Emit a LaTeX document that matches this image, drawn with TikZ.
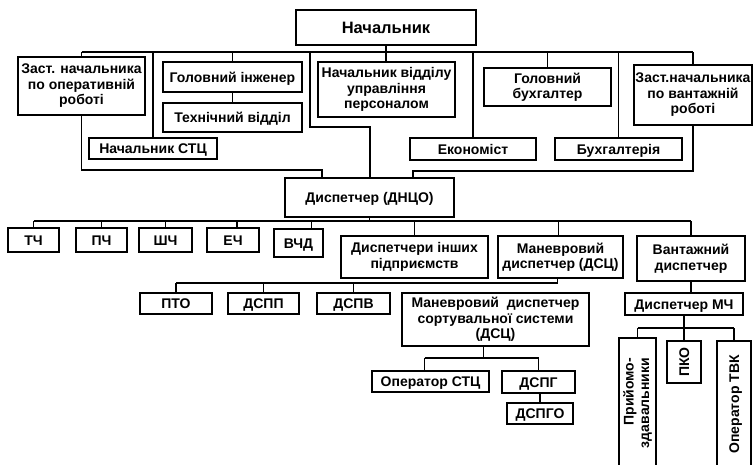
\documentclass[tikz,border=0pt]{standalone}
\usepackage{fontspec}
\setmainfont{Liberation Sans}
\newcommand\bxfont{\fontsize{14}{15.5}\selectfont\bfseries}
\newcommand\bigbxfont{\fontsize{16.5}{18}\selectfont\bfseries}
\tikzset{
  box/.style={draw, line width=2.7pt, inner sep=0pt, align=center, font=\bxfont},
  sl/.style={text height=10pt, text depth=0pt},
  conn/.style={draw, line width=1.3pt}
}
% \bx{name}{x1}{y1}{x2}{y2}{options}{text}
\newcommand\bx[7]{\node[box, minimum width={(#4-#2)*1pt}, minimum height={(#5-#3)*1pt}, #6] (#1) at ({(#2+#4)/2},{(#3+#5)/2}) {#7};}
\newcommand\rbx[7]{\node[box, rotate=90, minimum width={(#5-#3)*1pt}, minimum height={(#4-#2)*1pt}, #6] (#1) at ({(#2+#4)/2},{(#3+#5)/2}) {#7};}
\begin{document}
\begin{tikzpicture}[x=1pt,y=-1pt]
\useasboundingbox (0,0) rectangle (755,464);
\fill[white] (0,0) rectangle (755,464);
% top level
\bx{nach}{296}{10}{476}{45}{font=\bigbxfont, text height=12pt, text depth=0pt}{Начальник}
\bx{zast1}{18}{57}{145}{115}{}{Заст. начальника\\по оперативній\\роботі}
\bx{gi}{163}{62}{302}{92}{sl}{Головний інженер}
\bx{tv}{163}{103}{302}{132}{sl}{Технічний відділ}
\bx{stc}{89}{138}{217}{159}{sl}{Начальник СТЦ}
\bx{nvup}{318}{62}{455}{117}{}{Начальник відділу\\управління\\персоналом}
\bx{gb}{484}{68}{611}{106}{}{Головний\\бухгалтер}
\bx{zast2}{634}{65}{752}{125}{}{Заст.начальника\\по вантажній\\роботі}
\bx{ek}{410}{138}{536}{160}{sl}{Економіст}
\bx{bh}{555}{138}{682}{160}{sl}{Бухгалтерія}
\bx{dnco}{285}{178}{454}{217}{sl}{Диспетчер (ДНЦО)}
% second level
\bx{tch}{8}{228}{59}{252}{sl}{ТЧ}
\bx{pch}{76}{228}{127}{252}{sl}{ПЧ}
\bx{shch}{139}{228}{192}{252}{sl}{ШЧ}
\bx{ech}{207}{228}{259}{252}{sl}{ЕЧ}
\bx{vchd}{274}{229}{323}{257}{sl}{ВЧД}
\bx{dip}{341}{236}{488}{278}{}{Диспетчери інших\\підприємств}
\bx{mdsc}{498}{236}{623}{278}{}{Маневровий\\диспетчер (ДСЦ)}
\bx{vd}{637}{236}{745}{281}{}{Вантажний\\диспетчер}
% third level
\bx{pto}{140}{293}{212}{314}{sl}{ПТО}
\bx{dspp}{228}{293}{299}{314}{sl}{ДСПП}
\bx{dspv}{317}{293}{390}{314}{sl}{ДСПВ}
\bx{mdss}{402}{293}{589}{346}{}{Маневровий\ \ диспетчер\\сортувальної системи\\(ДСЦ)}
\bx{opstc}{372}{371}{489}{392}{sl}{Оператор СТЦ}
\bx{dspg}{502}{371}{575}{393}{sl}{ДСПГ}
\bx{dspgo}{507}{403}{573}{424}{sl}{ДСПГО}
\bx{dmch}{625}{293}{743}{315}{sl}{Диспетчер МЧ}
\rbx{pz}{619}{338}{656}{468}{align=right}{Прийомо-\\здавальники}
\rbx{pko}{667}{341}{701}{383}{sl}{ПКО}
\rbx{otvk}{717}{341}{751}{468}{sl}{Оператор ТВК}
% bus coordinates
\coordinate (bus1) at (0,52);
\coordinate (bus2) at (0,221);
\coordinate (bus3) at (0,283);
\coordinate (bus4) at (0,358);
\coordinate (bus5) at (0,328);
% top connectors
\draw[conn] (nach.south) -- (nach.south |- nvup.north);
\draw[conn] (zast1.north |- bus1) -- (zast2.north |- bus1);
\draw[conn] (zast1.north) -- (zast1.north |- bus1);
\draw[conn] (stc.north) -- (stc.north |- bus1);
\draw[conn] (gi.north) -- (gi.north |- bus1);
\draw[conn] (gi.south) -- (tv.north);
\draw[conn] (ek.north) -- (ek.north |- bus1);
\draw[conn] (gb.north) -- (gb.north |- bus1);
\draw[conn] (bh.north) -- (bh.north |- bus1);
\draw[conn] (zast2.north) -- (zast2.north |- bus1);
\coordinate (jA) at (310,52);
\coordinate (jB) at (370,127);
\draw[conn] (jA) |- (jB) -- (jB |- dnco.north);
\coordinate (jC) at (322,170);
\draw[conn] (zast1.south) |- (jC) -- (jC |- dnco.north);
\coordinate (jD) at (413,171);
\draw[conn] (zast2.south) |- (jD) -- (jD |- dnco.north);
% dnco connectors
\draw[conn] (dnco.south) -- (dnco.south |- bus2);
\draw[conn] (tch.north |- bus2) -- (vd.north |- bus2);
\foreach \n in {tch,pch,shch,dip,vd}{\draw[conn] (\n.north) -- (\n.north |- bus2);}
\draw[conn] ([xshift=4pt]ech.north) -- ([xshift=4pt]ech.north |- bus2);
\draw[conn] ([xshift=13pt]vchd.north) -- ([xshift=13pt]vchd.north |- bus2);
\draw[conn] ([xshift=-2pt]mdsc.north) -- ([xshift=-2pt]mdsc.north |- bus2);
% mdsc connectors
\draw[conn] ([xshift=-3pt]mdsc.south) -- ([xshift=-3pt]mdsc.south |- bus3) -- (pto.north |- bus3);
\foreach \n in {pto,dspp,dspv}{\draw[conn] (\n.north) -- (\n.north |- bus3);}
% mdss connectors
\draw[conn] ([xshift=-12pt]mdss.south) -- ([xshift=-12pt]mdss.south |- bus4);
\draw[conn] ([xshift=-6pt]opstc.north |- bus4) -- (dspg.north |- bus4);
\draw[conn] ([xshift=-6pt]opstc.north) -- ([xshift=-6pt]opstc.north |- bus4);
\draw[conn] (dspg.north) -- (dspg.north |- bus4);
\draw[conn] (dspg.south) -- (dspg.south -| dspgo.north) -- (dspgo.north);
% vd connectors
\draw[conn] (vd.south) -- (vd.south |- dmch.north);
\draw[conn] (dmch.south) -- (dmch.south |- bus5);
\draw[conn] (pz.east |- bus5) -- (otvk.east |- bus5);
\draw[conn] (pz.east) -- (pz.east |- bus5);
\draw[conn] (pko.east) -- (pko.east |- bus5);
\draw[conn] (otvk.east) -- (otvk.east |- bus5);
\end{tikzpicture}
\end{document}
